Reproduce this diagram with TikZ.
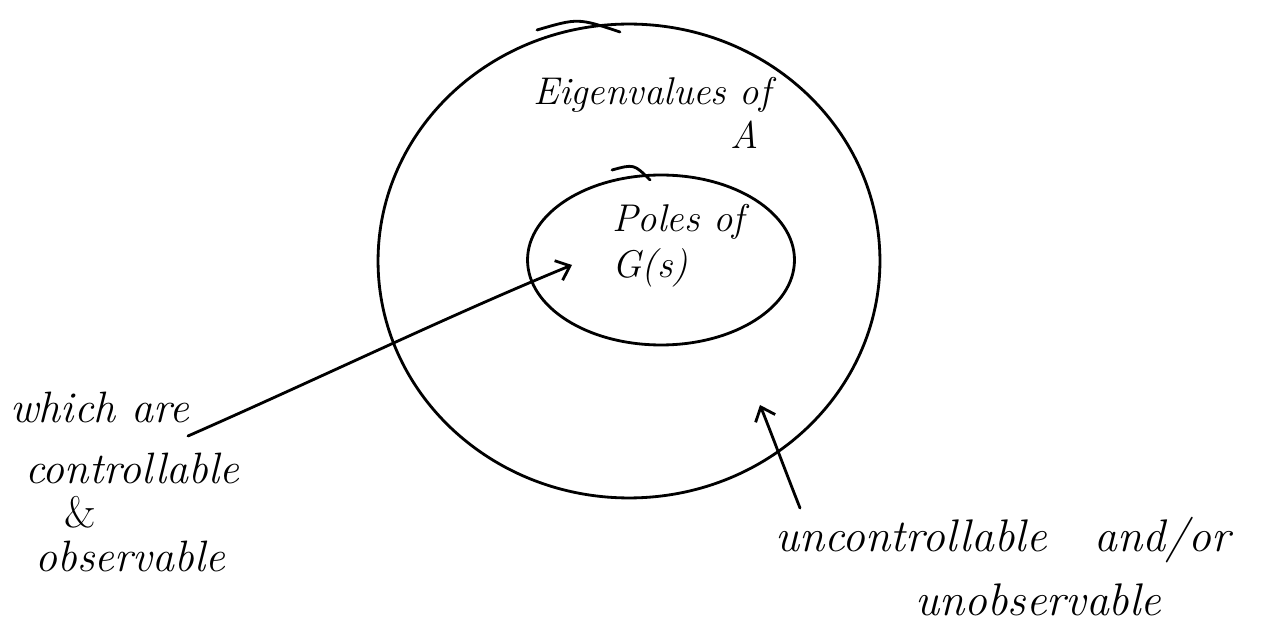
\documentclass[tikz,border=0pt]{standalone}
\usepackage{tikz}
\usetikzlibrary{arrows.meta,positioning}
\tikzset{
  pen/.style={line width=1.6pt, black, line cap=round},
  pointer/.style={pen, -{Straight Barb[length=7pt, width=12pt, line width=1.6pt]}},
  note/.style={font=\itshape\fontsize{22}{30}\selectfont, inner sep=0pt, align=center},
  sidenote/.style={font=\itshape\fontsize{25}{30}\selectfont, inner sep=0pt, align=center},
  bignote/.style={font=\itshape\fontsize{26}{40}\selectfont, inner sep=0pt, align=center},
}
\begin{document}
\begin{tikzpicture}[x=0.02cm, y=-0.02cm]
\useasboundingbox (0,0) rectangle (1271,624);
% Outer region: eigenvalues of A
\draw[pen] (629,261) ellipse [x radius=5.02cm, y radius=4.74cm];
\draw[pen] (537,30) .. controls (578,18) .. (620,32);
% Inner region: poles of G(s)
\draw[pen] (661,260) ellipse [x radius=2.67cm, y radius=1.70cm];
\draw[pen] (612,170) .. controls (634,164) .. (650,180);
% Labels
\node[note] (eig) at (652,95) {Eigenvalues of};
\node[note] (eigA) at (745,135) {A};
\node[note, anchor=west] (poles) at (612,222) {Poles of};
\node[note, anchor=west] (gs) at (612,268) {G(s)};
\node[sidenote, anchor=west] (which) at (10,407) {which are};
\node[sidenote, anchor=west] (ctrl) at (25,468) {controllable};
\node[sidenote] (amp) at (80,512) {\upshape\&};
\node[sidenote, anchor=west] (obs) at (35,556) {observable};
\node[bignote, anchor=west] (unctrl) at (775,540) {uncontrollable \ \ and/or};
\node[bignote, anchor=west] (unobs) at (915,600) {unobservable};
% Pointers
\coordinate (inside) at (572,265);
\coordinate (ring) at (760,405);
\coordinate (tailL) at (188,436);
\coordinate (tailR) at (800,508);
\draw[pointer] (tailL) .. controls (320,378) and (450,315) .. (inside);
\draw[pointer] (tailR) .. controls (785,470) and (772,435) .. (ring);
\end{tikzpicture}
\end{document}
